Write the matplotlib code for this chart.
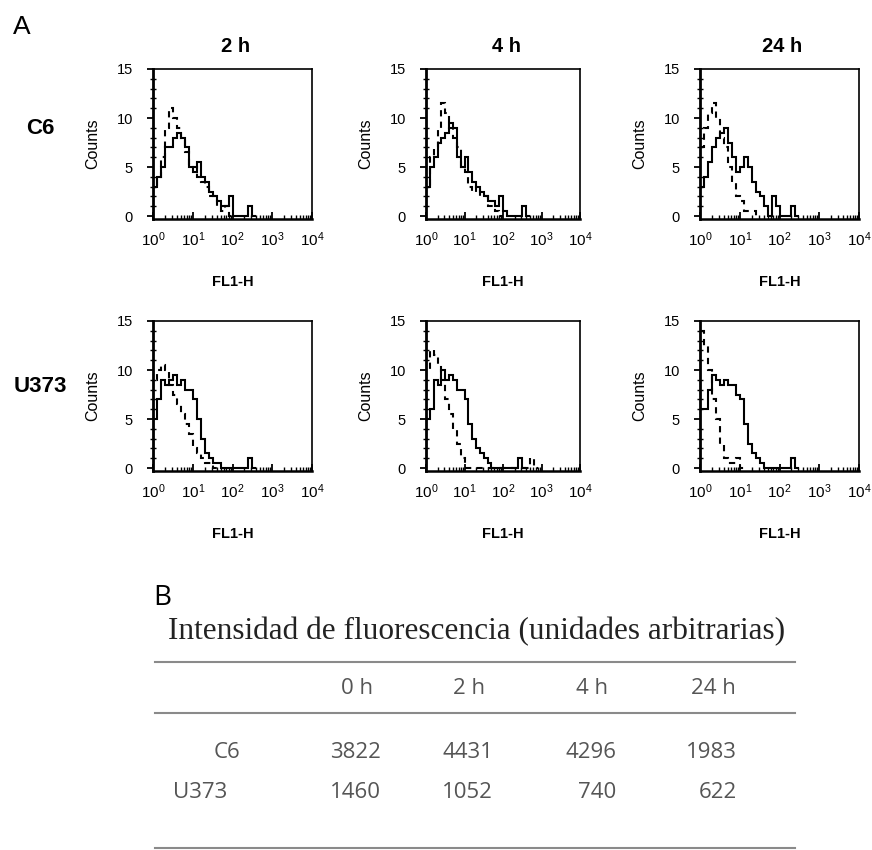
import numpy as np
import matplotlib.pyplot as plt
from matplotlib.lines import Line2D
from matplotlib.ticker import LogLocator, MultipleLocator, NullFormatter

plt.rcParams['font.family'] = ['Liberation Sans', 'DejaVu Sans']
plt.rcParams['mathtext.fontset'] = 'custom'
plt.rcParams['mathtext.rm'] = 'Liberation Sans'
plt.rcParams['mathtext.it'] = 'Liberation Sans:italic'
plt.rcParams['mathtext.bf'] = 'Liberation Sans:bold'

# Panel A: histogramas FL1-H (10 canales por década, desde 10^0)
paso_log = 0.1
tiempos = ['2 h', '4 h', '24 h']
lineas = ['C6', 'U373']

c6_2h_cont = [3, 4, 5, 7, 7, 8, 8.5, 8, 7, 5, 4.5, 5.5, 4, 3.5, 2.5, 2, 1.5, 1, 1, 2, 0, 0, 0, 0, 1, 0]
c6_2h_disc = [3, 4, 6, 9, 11, 10, 9, 8, 6.5, 5, 5, 4, 3.5, 3, 2, 2, 1, 0.5, 1, 0]
c6_4h_cont = [3, 5, 6, 7.5, 8, 8.5, 9.5, 9, 6, 5, 6, 4.5, 3.5, 3, 2.5, 2, 1.5, 1.5, 1, 2, 0.5, 0, 0, 0, 0, 1, 0]
c6_4h_disc = [3, 6, 7, 9, 11.5, 10.5, 9, 8, 7, 5, 4.5, 3, 2.5, 3, 2, 2, 1, 1, 0.5, 0]
c6_24h_cont = [3, 4, 5.5, 7, 8, 8.5, 9, 7.5, 6, 4.5, 5, 6, 5, 3.5, 2.5, 2, 1, 0, 2, 1, 0, 0, 0, 1, 0]
c6_24h_disc = [7, 9, 10.5, 11.5, 10, 8, 7, 5, 3.5, 2, 1.5, 0.5, 0.5, 0.5, 0]
u373_2h_cont = [5, 7, 9, 8.5, 9, 9.5, 8.5, 9, 8, 8, 7, 5, 3, 1.5, 1, 0.5, 0.5, 0, 0, 0, 0, 0, 0, 0, 1, 0]
u373_2h_disc = [9, 10, 10.5, 10, 8.5, 7.5, 6.5, 5.5, 4.5, 3.5, 2, 1.5, 1, 0.5, 0.5, 0]
u373_4h_cont = [5, 6, 9, 8.5, 10, 9, 9.5, 9, 8, 8, 7, 4.5, 3, 2, 1.5, 1, 0.5, 0, 0, 0, 0, 0, 0, 0, 1, 0]
u373_4h_disc = [10, 12, 11.5, 10.5, 9, 7, 5.5, 4, 2.5, 1, 0, 0, 0, 0, 0, 0, 0, 0, 0, 0, 0, 0, 0, 0, 0, 0, 0, 1, 0]
u373_24h_cont = [6, 6, 8, 9.5, 9, 8.5, 9, 8.5, 8.5, 7.5, 7, 4.5, 2.5, 1.5, 1, 0.5, 0, 0, 0, 0, 0, 0, 0, 1, 0]
u373_24h_disc = [14, 12.5, 10, 7, 5, 2.5, 1, 0.5, 0.5, 1, 0]

histogramas = {
    ('C6', '2 h'): (c6_2h_cont, c6_2h_disc),
    ('C6', '4 h'): (c6_4h_cont, c6_4h_disc),
    ('C6', '24 h'): (c6_24h_cont, c6_24h_disc),
    ('U373', '2 h'): (u373_2h_cont, u373_2h_disc),
    ('U373', '4 h'): (u373_4h_cont, u373_4h_disc),
    ('U373', '24 h'): (u373_24h_cont, u373_24h_disc),
}

# Panel B: tabla de intensidad
columnas_tabla = ['0 h', '2 h', '4 h', '24 h']
filas_tabla = ['C6', 'U373']
intensidad_c6 = [3822, 4431, 4296, 1983]
intensidad_u373 = [1460, 1052, 740, 622]

W, H = 872, 850


def fx(x):
    return x / W


def fy(y):
    return 1 - y / H


def main():
    fig = plt.figure(figsize=(W / 100, H / 100), dpi=100)

    # posiciones en pixeles de cada panel (izq, der) y (arriba, abajo)
    cols_px = [(153, 312), (426, 580), (700, 859)]
    filas_px = [(69, 219), (321, 471)]
    etiquetas_y = [128, 387]

    for i, linea in enumerate(lineas):
        top, bot = filas_px[i]
        for j, t in enumerate(tiempos):
            left, right = cols_px[j]
            ax = fig.add_axes([fx(left), fy(bot), (right - left) / W, (bot - top) / H])
            cont, disc = histogramas[(linea, t)]
            edges_c = 10 ** (np.arange(len(cont) + 1) * paso_log)
            edges_d = 10 ** (np.arange(len(disc) + 1) * paso_log)
            ax.stairs(cont, edges_c, color='black', lw=1.5, baseline=0)
            ax.stairs(disc, edges_d, color='black', lw=1.5, baseline=0,
                      linestyle=(0, (3, 2.5)))
            ax.set_xscale('log')
            ax.set_xlim(1, 1e4)
            ax.set_ylim(-0.3, 15)
            ax.set_yticks([0, 5, 10, 15])
            ax.yaxis.set_minor_locator(MultipleLocator(1))
            ax.xaxis.set_major_locator(LogLocator(base=10, numticks=10))
            ax.xaxis.set_minor_locator(LogLocator(base=10, subs=np.arange(2, 10), numticks=20))
            ax.xaxis.set_minor_formatter(NullFormatter())
            ax.tick_params(axis='y', which='major', direction='out', length=4.5, width=1.3,
                           labelsize=10.5, pad=10)
            ax.tick_params(axis='y', which='minor', direction='inout', length=4, width=1)
            ax.tick_params(axis='x', which='major', direction='in', length=5, width=1.3,
                           labelsize=11, pad=8)
            ax.tick_params(axis='x', which='minor', direction='in', length=3, width=1)
            for s in ax.spines.values():
                s.set_linewidth(1.2)
            ax.spines['left'].set_linewidth(2)
            ax.spines['bottom'].set_linewidth(1.8)
            ax.set_xlabel('FL1-H', fontsize=10.5, fontweight='bold', labelpad=19)
            ax.set_ylabel('Counts', fontsize=11.5, labelpad=12)
            if i == 0:
                fig.text(fx((left + right) / 2 + 3), fy(47), t, fontsize=14.5,
                         fontweight='bold', ha='center', va='center')
        fig.text(fx(40), fy(etiquetas_y[i]), linea, fontsize=16,
                 fontweight='bold', ha='center', va='center')

    fig.text(fx(22), fy(27), 'A', fontsize=19, ha='center', va='center')
    fig.text(fx(162), fy(598), 'B', fontsize=20, ha='center', va='center',
             family='Open Sans')

    # tabla B
    fig.text(fx(477), fy(632), 'Intensidad de fluorescencia (unidades arbitrarias)',
             fontsize=22.5, family='Liberation Serif', color='#222222',
             ha='center', va='center')
    for yl in [662, 713, 848]:
        fig.add_artist(Line2D([fx(155), fx(795)], [fy(yl), fy(yl)],
                              color='#8a8a8a', lw=1.5))
    col_x = [357, 469, 592, 713]
    gris = '#555555'
    for x, c in zip(col_x, columnas_tabla):
        fig.text(fx(x), fy(689), c, fontsize=16, family='Open Sans', color=gris,
                 ha='center', va='center')
    filas_y = [752, 793]
    filas_x = [227, 200]
    for nombre, vals, y, xn in zip(filas_tabla, [intensidad_c6, intensidad_u373], filas_y, filas_x):
        fig.text(fx(xn), fy(y), nombre, fontsize=16, family='Open Sans', color=gris,
                 ha='center', va='center')
        for x, v in zip(col_x, vals):
            fig.text(fx(x + 24), fy(y), f"{v}", fontsize=16, family='Open Sans',
                     color=gris, ha='right', va='center')

    fig.savefig('out.png', dpi=100)


if __name__ == '__main__':
    main()
